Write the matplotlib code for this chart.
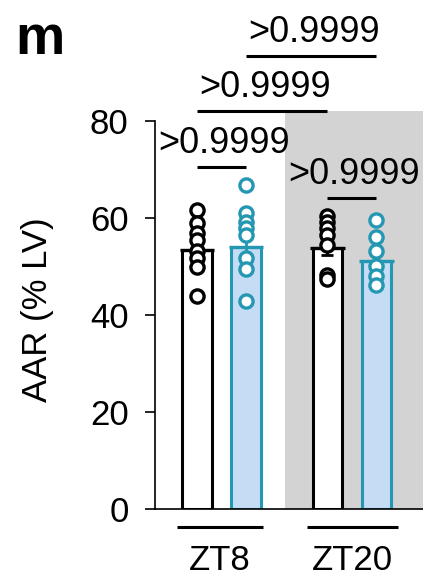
import numpy as np
import matplotlib
matplotlib.use('Agg')
import matplotlib.pyplot as plt

plt.rcParams['font.family'] = ['Liberation Sans', 'DejaVu Sans']

groups = ['ZT8', 'ZT20']
zt8_ctrl = [61.6, 59.0, 56.9, 55.5, 53.2, 51.8, 49.9, 43.9]
zt8_treat = [66.8, 61.0, 59.2, 57.9, 56.5, 51.7, 49.4, 42.9]
zt20_ctrl = [60.4, 59.2, 57.9, 56.5, 54.4, 48.2, 47.4]
zt20_treat = [59.6, 56.0, 53.1, 50.1, 48.0, 46.2]
bar_means = [53.4, 54.0, 53.7, 51.1]
bar_sem = [1.5, 1.9, 1.4, 1.6]
pvals = ['>0.9999', '>0.9999', '>0.9999', '>0.9999']

series = [zt8_ctrl, zt8_treat, zt20_ctrl, zt20_treat]
xpos = [0, 1, 2.66, 3.66]
edge = ['black', '#2497b2', 'black', '#2497b2']
face = ['white', '#c5dcf5', 'white', '#c5dcf5']

fig = plt.figure(figsize=(4.23, 5.76), dpi=100)
ax = fig.add_axes([0.3664, 0.1163, 0.6336, 0.691])
ax.set_xlim(-0.857, 4.61)
ax.set_ylim(0, 82)

ax.axvspan(1.80, 4.61, color='#d3d3d3', lw=0, zorder=0)

for i in range(4):
    ax.bar(xpos[i], bar_means[i], width=0.6, color=face[i], edgecolor=edge[i],
           linewidth=2.2, zorder=2)
    # mean line a bit wider than the bar
    ax.plot([xpos[i] - 0.35, xpos[i] + 0.35], [bar_means[i], bar_means[i]],
            color=edge[i], lw=2.4, zorder=3, solid_capstyle='butt')
    ax.errorbar(xpos[i], bar_means[i], yerr=bar_sem[i], color=edge[i],
                capsize=4.5, capthick=2, elinewidth=2, zorder=3)
    ax.plot([xpos[i]] * len(series[i]), series[i], 'o', markersize=9.5,
            markerfacecolor='white', markeredgecolor=edge[i], mew=2.4, zorder=4)

# significance brackets
brackets = [(0, 1, 70.5), (2.66, 3.66, 64.1), (0, 2.66, 82.1), (1, 3.66, 93.4)]
for (x1, x2, y), p in zip(brackets, pvals):
    ax.plot([x1, x2], [y, y], color='black', lw=2.2, clip_on=False,
            solid_capstyle='butt')
    ax.text((x1 + x2) / 2 + 0.05, y + 1.2, p, ha='center', va='bottom',
            fontsize=26, clip_on=False)

# group lines and labels
glines = [(-0.41, 1.35), (2.24, 4.1)]
for (x1, x2), g in zip(glines, groups):
    ax.plot([x1, x2], [-3.7, -3.7], color='black', lw=2.2, clip_on=False,
            solid_capstyle='butt')
    ax.text((x1 + x2) / 2, -10.6, g, ha='center', va='center', fontsize=25)

ax.spines['top'].set_visible(False)
ax.spines['right'].set_visible(False)
ax.spines['left'].set_bounds(0, 80)
ax.spines['left'].set_linewidth(1.2)
ax.spines['bottom'].set_linewidth(1.2)
ax.set_xticks([])
ax.set_yticks([0, 20, 40, 60, 80])
ax.tick_params(axis='y', labelsize=25, width=1.2, length=7, pad=12)
ax.set_ylabel('AAR (% LV)', fontsize=25, labelpad=26)

fig.text(0.035, 0.975, 'm', fontsize=40, fontweight='bold', va='top', ha='left')

fig.savefig('out.png', dpi=100)
